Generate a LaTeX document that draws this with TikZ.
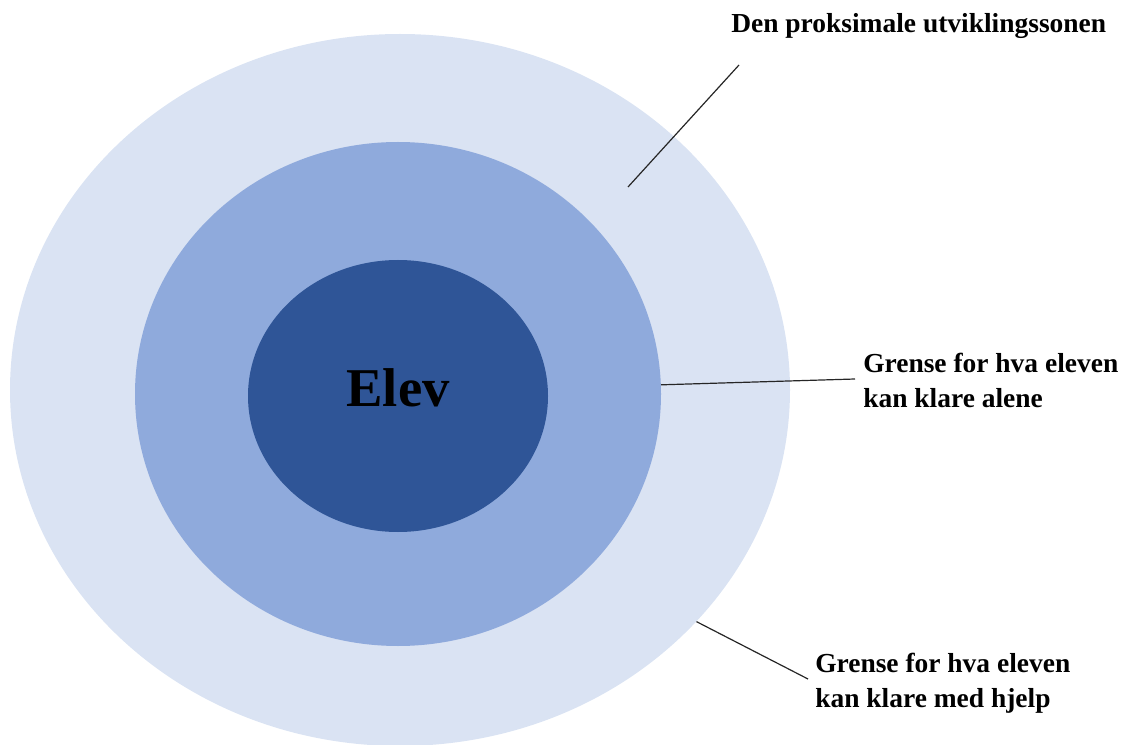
\documentclass[tikz,border=0pt]{standalone}
\usepackage{fontspec}
\setmainfont{Liberation Serif}
\usetikzlibrary{shapes.geometric}
\definecolor{zoneout}{HTML}{DAE3F3}
\definecolor{zonemid}{HTML}{8FAADC}
\definecolor{zonein}{HTML}{2F5597}
\tikzstyle{zone}=[ellipse, inner sep=0pt, draw=none]
\tikzstyle{lbl}=[inner sep=0pt, align=left, anchor=base west, font=\bfseries\fontsize{20.6}{25.8}\selectfont]
\tikzstyle{lead}=[draw, line width=0.9pt, black!85]

\begin{document}
\begin{tikzpicture}[x=0.75pt,y=-0.75pt]
    \useasboundingbox (0,0) rectangle (1136,745);
    \node [zone, fill=zoneout, minimum width=585pt, minimum height=534pt] (outer) at (400,390) {};
    \node [zone, fill=zonemid, minimum width=394.5pt, minimum height=378pt] (mid) at (398,394) {};
    \node [zone, fill=zonein, minimum width=225pt, minimum height=204pt] (inner) at (398,396) {};
    \node [inner sep=0pt, font=\bfseries\fontsize{41}{41}\selectfont] (elev) at (398,388) {Elev};

    \node [lbl] (prox) at (731,33) {Den proksimale utviklingssonen};
    \node [lbl] (alene) at (863,407) {Grense for hva eleven\\kan klare alene};
    \node [lbl] (hjelp) at (815,707) {Grense for hva eleven\\kan klare med hjelp};

    \coordinate (proxtip) at (739,65);
    \coordinate (proxend) at (628,187);
    \coordinate (aleneend) at (855,379);
    \coordinate (hjelpend) at (808,679);
    \path[lead] (proxtip) -- (proxend);
    \path[lead] (mid.2.4) -- (aleneend);
    \path[lead] (outer.-38) -- (hjelpend);
\end{tikzpicture}
\end{document}
